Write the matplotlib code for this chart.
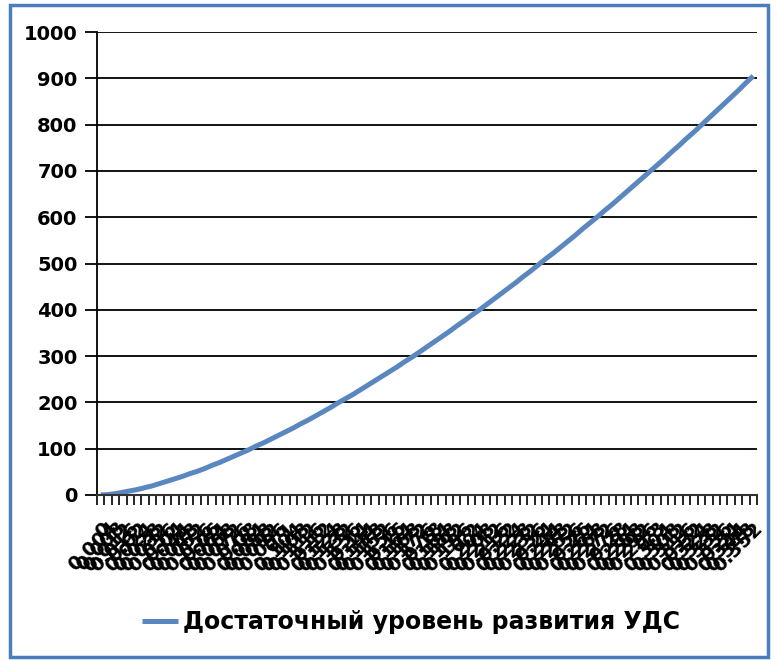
import matplotlib.pyplot as plt
from matplotlib.patches import Rectangle

# categories on the x axis (Excel category axis)
x_labels = ["0", "0.004", "0.008", "0.012", "0.016", "0.02", "0.024", "0.028", "0.032", "0.036",
            "0.04", "0.044", "0.048", "0.052", "0.056", "0.06", "0.064", "0.068", "0.072", "0.076",
            "0.08", "0.084", "0.088", "0.092", "0.096", "0.1", "0.104", "0.108", "0.112", "0.116",
            "0.12", "0.124", "0.128", "0.132", "0.136", "0.14", "0.144", "0.148", "0.152", "0.156",
            "0.16", "0.164", "0.168", "0.172", "0.176", "0.18", "0.184", "0.188", "0.192", "0.196",
            "0.2", "0.204", "0.208", "0.212", "0.216", "0.22", "0.224", "0.228", "0.232", "0.236",
            "0.24", "0.244", "0.248", "0.252", "0.256", "0.26", "0.264", "0.268", "0.272", "0.276",
            "0.28", "0.284", "0.288", "0.292", "0.296", "0.3", "0.304", "0.308", "0.312", "0.316",
            "0.32", "0.324", "0.328", "0.332", "0.336", "0.34", "0.344", "0.348", "0.352"]

# values
udc_level = [0, 1, 3, 6, 9, 12, 16, 20, 25, 30,
             35, 40, 46, 51, 57, 64, 70, 77, 84, 91,
             98, 106, 113, 121, 129, 137, 145, 154, 162, 171,
             180, 189, 199, 208, 217, 227, 237, 247, 257, 267,
             277, 288, 298, 309, 320, 331, 342, 353, 365, 376,
             388, 399, 411, 423, 435, 447, 459, 472, 484, 497,
             510, 522, 535, 548, 561, 575, 588, 601, 615, 628,
             642, 656, 670, 684, 698, 712, 726, 741, 755, 770,
             784, 799, 814, 829, 844, 859, 874, 890, 905]

series_name = "Достаточный уровень развития УДС"
y_ticks = [0, 100, 200, 300, 400, 500, 600, 700, 800, 900, 1000]

plt.rcParams['font.family'] = ['DejaVu Sans']

fig = plt.figure(figsize=(7.77, 6.61), dpi=100)
ax = fig.add_axes([97 / 777, 1 - 495 / 661, 660 / 777, 463 / 661])

pos = list(range(len(x_labels)))
line, = ax.plot(pos, udc_level, color='#5B87C0', linewidth=3.6, solid_capstyle='butt')

ax.set_xlim(-0.5, len(x_labels) - 0.5)
ax.set_ylim(0, 1000)
ax.set_yticks(y_ticks)
ax.set_yticklabels([str(v) for v in y_ticks], fontsize=14, fontweight='bold')
ax.yaxis.grid(True, color='black', linewidth=1.3)
ax.set_axisbelow(True)

# tick marks at category boundaries, labels at category centres
ax.set_xticks([p - 0.5 for p in pos] + [len(x_labels) - 0.5], minor=True)
ax.set_xticks(pos)
ax.set_xticklabels(x_labels, rotation=45, ha='right', va='top', rotation_mode='anchor',
                   fontsize=14, fontweight='bold')
ax.tick_params(axis='x', which='major', length=0, pad=17)
ax.tick_params(axis='x', which='minor', length=7, width=1.2, color='black')
ax.tick_params(axis='y', length=9, width=1.3, color='black', pad=5)

for s in ['top', 'right']:
    ax.spines[s].set_visible(False)
ax.spines['left'].set_linewidth(1.3)
ax.spines['bottom'].set_linewidth(1.5)
ax.spines['bottom'].set_color('#333333')

fig.legend([line], [series_name], loc='center', bbox_to_anchor=(411 / 777, 1 - 622 / 661),
           frameon=False, handlelength=1.5, handletextpad=0.2,
           prop={'size': 17, 'weight': 'bold'})

# chart border
fig.patches.append(Rectangle((10 / 777, 4 / 661), 758 / 777, 652 / 661, transform=fig.transFigure,
                             fill=False, edgecolor='#4A7EBB', linewidth=2.5))

fig.savefig('out.png', dpi=100)
